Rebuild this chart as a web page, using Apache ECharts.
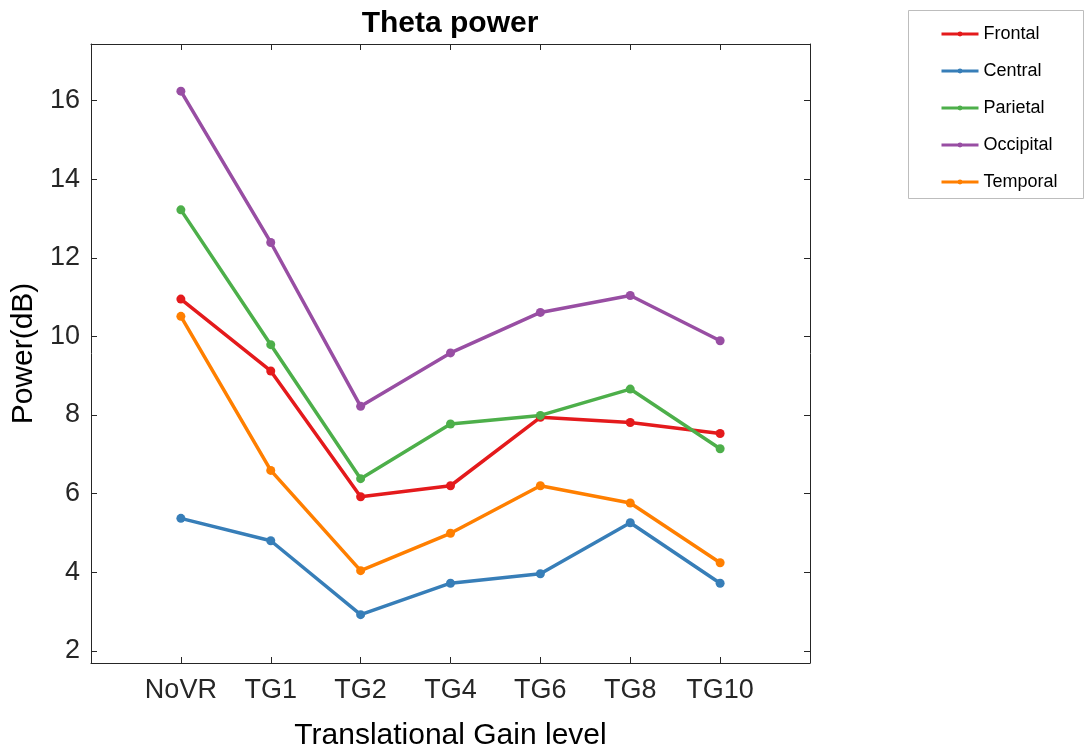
<!DOCTYPE html>
<html>
<head>
<meta charset="utf-8">
<script src="https://cdn.jsdelivr.net/npm/echarts@6/dist/echarts.min.js"></script>
<style>
html,body{margin:0;padding:0;background:#fff;}
#chart{width:1085px;height:750px;}
</style>
</head>
<body>
<div id="chart"></div>
<script>
var categories = ['NoVR', 'TG1', 'TG2', 'TG4', 'TG6', 'TG8', 'TG10'];
var yTicks = [2, 4, 6, 8, 10, 12, 14, 16];
var frontal   = [10.95, 9.12, 5.92, 6.20, 7.94, 7.81, 7.53];
var central   = [5.37, 4.80, 2.92, 3.72, 3.96, 5.26, 3.72];
var parietal  = [13.22, 9.79, 6.38, 7.77, 7.99, 8.66, 7.14];
var occipital = [16.24, 12.39, 8.22, 9.58, 10.61, 11.04, 9.89];
var temporal  = [10.51, 6.59, 4.04, 4.99, 6.20, 5.76, 4.24];

var seriesDefs = [
  {name: 'Frontal', data: frontal, color: '#e41a1c'},
  {name: 'Central', data: central, color: '#377eb8'},
  {name: 'Parietal', data: parietal, color: '#4daf4a'},
  {name: 'Occipital', data: occipital, color: '#984ea3'},
  {name: 'Temporal', data: temporal, color: '#ff7f00'}
];
var xPositions = categories.map(function (c, i) { return i + 1; });

var axisColor = '#262626';
var font = 'Liberation Sans, Arial, Helvetica, sans-serif';

var chart = echarts.init(document.getElementById('chart'), null, {renderer: 'canvas'});
var option = {
  backgroundColor: '#ffffff',
  animation: false,
  title: {
    text: 'Theta power',
    left: 445,
    textAlign: 'center',
    top: 4,
    textStyle: {fontFamily: font, fontSize: 30, fontWeight: 'bold', color: '#000'}
  },
  legend: {
    orient: 'vertical',
    left: 935,
    top: 19,
    itemWidth: 37,
    itemHeight: 6,
    itemGap: 17,
    padding: 5,
    lineStyle: {width: 3},
    textStyle: {fontFamily: font, fontSize: 18, color: '#000', lineHeight: 20},
    data: seriesDefs.map(function (s) { return s.name; })
  },
  graphic: [{
    type: 'rect',
    shape: {x: 908.5, y: 10.5, width: 175, height: 188},
    style: {fill: 'none', stroke: '#bdbdbd', lineWidth: 1},
    z: -1
  }],
  grid: {left: 91, right: 275, top: 44, bottom: 87, containLabel: false, outerBoundsMode: 'none'},
  xAxis: [{
    type: 'value', min: 0, max: 8, position: 'bottom',
    name: 'Translational Gain level', nameLocation: 'middle', nameGap: 58,
    nameTextStyle: {fontFamily: font, fontSize: 30, color: '#000'},
    axisLine: {show: true, onZero: false, lineStyle: {color: axisColor, width: 1}},
    axisTick: {show: true, inside: true, length: 6, customValues: xPositions, lineStyle: {color: axisColor}},
    axisLabel: {show: true, margin: 14, fontFamily: font, fontSize: 27, color: axisColor,
      customValues: xPositions,
      formatter: function (v) { return categories[Math.round(v) - 1] || ''; }},
    splitLine: {show: false}
  }, {
    type: 'value', min: 0, max: 8, position: 'top',
    axisLine: {show: true, onZero: false, lineStyle: {color: axisColor, width: 1}},
    axisTick: {show: true, inside: true, length: 6, customValues: xPositions, lineStyle: {color: axisColor}},
    axisLabel: {show: false},
    splitLine: {show: false}
  }],
  yAxis: [{
    type: 'value', min: 1.69, max: 17.44, position: 'left',
    name: 'Power(dB)', nameLocation: 'middle', nameGap: 51, nameRotate: 90,
    nameTextStyle: {fontFamily: font, fontSize: 30, color: '#000'},
    axisLine: {show: true, onZero: false, lineStyle: {color: axisColor, width: 1}},
    axisTick: {show: true, inside: true, length: 6, customValues: yTicks, lineStyle: {color: axisColor}},
    axisLabel: {show: true, margin: 11, fontFamily: font, fontSize: 27, color: axisColor,
      customValues: yTicks},
    splitLine: {show: false}
  }, {
    type: 'value', min: 1.69, max: 17.44, position: 'right',
    axisLine: {show: true, onZero: false, lineStyle: {color: axisColor, width: 1}},
    axisTick: {show: true, inside: true, length: 6, customValues: yTicks, lineStyle: {color: axisColor}},
    axisLabel: {show: false},
    splitLine: {show: false}
  }],
  series: seriesDefs.map(function (s) {
    return {
      name: s.name,
      type: 'line',
      xAxisIndex: 0,
      yAxisIndex: 0,
      data: s.data.map(function (v, i) { return [xPositions[i], v]; }),
      color: s.color,
      symbol: 'circle',
      symbolSize: 9,
      showSymbol: true,
      lineStyle: {width: 3.5, color: s.color},
      itemStyle: {color: s.color},
      emphasis: {disabled: true}
    };
  })
};
chart.setOption(option);
</script>
</body>
</html>
